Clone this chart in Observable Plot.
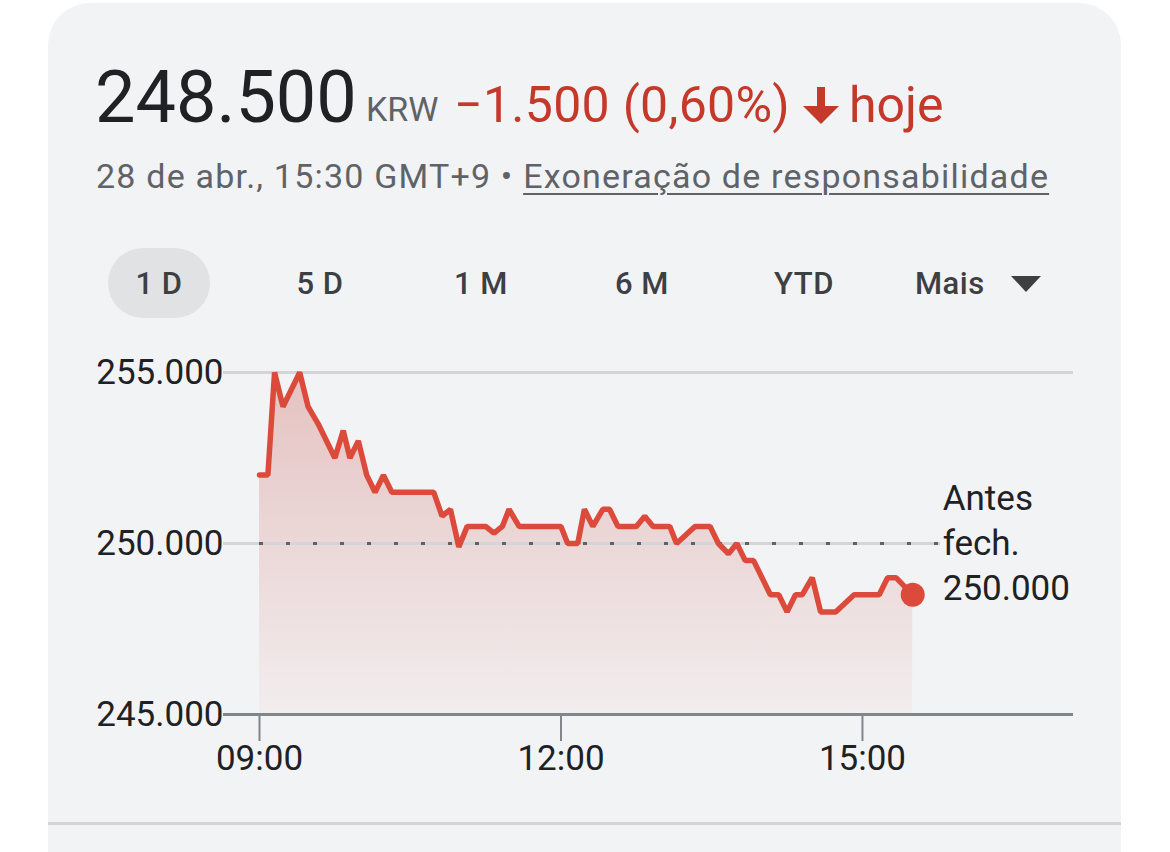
<!DOCTYPE html>
<html><head><meta charset="utf-8">
<script src="https://cdn.jsdelivr.net/npm/d3@7"></script>
<script src="https://cdn.jsdelivr.net/npm/@observablehq/plot@0.6"></script>
<style>
body{margin:0;background:#fff;width:1170px;height:852px;overflow:hidden;position:relative;font-family:Roboto,"Noto Sans",sans-serif}
.card{position:absolute;left:48px;top:3px;width:1073px;height:1000px;background:#f2f3f5;border-radius:42px}
.abs{position:absolute;white-space:nowrap;line-height:1}
.divider{position:absolute;left:48px;top:822px;width:1073px;height:3px;background:#d3d4d7}
.btn{position:absolute;top:268px;font-size:31px;font-weight:500;color:#3c4043;transform:translateX(-50%);line-height:1;white-space:nowrap;letter-spacing:0.5px}
.pill{position:absolute;left:108px;top:248px;width:102px;height:70px;border-radius:35px;background:#e1e2e4}
#chart{position:absolute;left:0;top:330px}
</style></head>
<body>
<div class="card"></div>
<div class="abs" style="left:95px;top:62px;font-size:72px;color:#202124">248.500</div>
<div class="abs" style="left:366px;top:92px;font-size:34px;color:#5f6368">KRW</div>
<div class="abs" style="left:454px;top:80px;font-size:50px;color:#c5392b;letter-spacing:0.3px">−1.500 (0,60%)</div>
<svg class="abs" style="left:803px;top:87px" width="36" height="37" viewBox="0 0 36 37"><path d="M14 0h8v19h14L18 37 0 19h14z" fill="#c5392b"/></svg>
<div class="abs" style="left:849px;top:80px;font-size:50px;color:#c5392b">hoje</div>
<div class="abs" style="left:96px;top:159px;font-size:34px;color:#5f6368;letter-spacing:1.2px">28 de abr., 15:30 GMT+9 • <span style="text-decoration:underline;text-decoration-thickness:2px;text-underline-offset:5px">Exoneração de responsabilidade</span></div>
<div class="pill"></div>
<div class="btn" style="left:159px">1 D</div>
<div class="btn" style="left:320px">5 D</div>
<div class="btn" style="left:481px">1 M</div>
<div class="btn" style="left:642px">6 M</div>
<div class="btn" style="left:804px">YTD</div>
<div class="btn" style="transform:none;left:915px">Mais</div>
<svg class="abs" style="left:1011px;top:276px" width="30" height="16" viewBox="0 0 30 16"><path d="M0 0h30L15 16z" fill="#3c4043"/></svg>
<div id="chart"></div>
<div class="divider"></div>
<script>
const times = ["09:00","09:05","09:09","09:14","09:24","09:29","09:35","09:45","09:50","09:54","09:59","10:04","10:09","10:14","10:19","10:44","10:49","10:54","10:59","11:04","11:15","11:20","11:25","11:29","11:35","12:00","12:04","12:10","12:14","12:19","12:25","12:29","12:34","12:45","12:50","12:55","13:05","13:09","13:20","13:29","13:34","13:40","13:45","13:50","13:55","14:05","14:10","14:15","14:20","14:24","14:30","14:35","14:44","14:55","15:10","15:15","15:20","15:30"];
const prices = [252000,252000,255000,254000,255000,254000,253500,252500,253300,252500,253000,252000,251500,252000,251500,251500,250800,251000,249900,250500,250500,250300,250500,251000,250500,250500,250000,250000,251000,250500,251000,251000,250500,250500,250800,250500,250500,250000,250500,250500,250000,249700,250000,249500,249500,248500,248500,248000,248500,248500,249000,248000,248000,248500,248500,249000,249000,248500];
const prevClose = 250000;
const yTicks = [245000, 250000, 255000];
const xTicks = ["09:00","12:00","15:00"];
const xDomain = ["09:00","17:06"];
const closeLabel = ["Antes", "fech."];

const red = "#dc4a3c";
const parse = d3.utcParse("%H:%M");
const locale = d3.formatLocale({decimal:",", thousands:".", grouping:[3], currency:["",""]});
const fmt = locale.format(",.0f");
const data = times.map((t,i) => ({t: parse(t), p: prices[i]}));
const last = data[data.length-1];

const gradientDefs = () => {
  const defs = d3.create("svg:defs");
  const g = defs.append("linearGradient").attr("id","areaGrad").attr("x1",0).attr("y1",0).attr("x2",0).attr("y2",1);
  g.append("stop").attr("offset","0%").attr("stop-color","#e5c2c1");
  g.append("stop").attr("offset","100%").attr("stop-color","#f2edee");
  return defs.node();
};

const chart = Plot.plot({
  width: 1170, height: 464,
  marginLeft: 259, marginRight: 97, marginTop: 42, marginBottom: 80,
  style: {fontFamily: "Roboto, sans-serif", fontSize: "32px", color: "#202124", background: "transparent", overflow: "visible"},
  x: {type: "utc", domain: xDomain.map(parse)},
  y: {domain: [yTicks[0], yTicks[2]]},
  marks: [
    gradientDefs,
    Plot.areaY(data, {x: "t", y1: yTicks[0], y2: "p", fill: "url(#areaGrad)"}),
    Plot.ruleY([yTicks[2]], {stroke: "#d4d5d8", strokeWidth: 3, insetLeft: -36}),
    Plot.ruleY([prevClose], {stroke: "#d4d5d8", strokeWidth: 3, insetLeft: -36, insetRight: 133}),
    Plot.ruleY([prevClose], {stroke: "#5f6368", strokeWidth: 3, strokeDasharray: "4 23", insetRight: 133}),
    Plot.ruleY([yTicks[0]], {stroke: "#80868b", strokeWidth: 3, insetLeft: -36}),
    Plot.axisY({ticks: yTicks, tickSize: 0, tickPadding: 36, tickFormat: fmt, fontSize: 35, label: null}),
    Plot.axisX({ticks: xTicks.map(parse), tickSize: 27, tickPadding: 4, tickFormat: d3.utcFormat("%H:%M"), stroke: "#80868b", strokeWidth: 2, fontSize: 35, label: null}),
    Plot.lineY(data, {x: "t", y: "p", stroke: red, strokeWidth: 5.5, strokeLinejoin: "miter"}),
    Plot.dot([last], {x: "t", y: "p", r: 12, fill: red}),
    Plot.text([last], {x: "t", y: () => prevClose, text: () => `${closeLabel[0]}\n${closeLabel[1]}\n${fmt(prevClose)}`, textAnchor: "start", dx: 30, dy: -3, lineHeight: 1.286, fontSize: 35, fill: "#202124"})
  ]
});
document.getElementById("chart").appendChild(chart);
</script>
</body></html>
